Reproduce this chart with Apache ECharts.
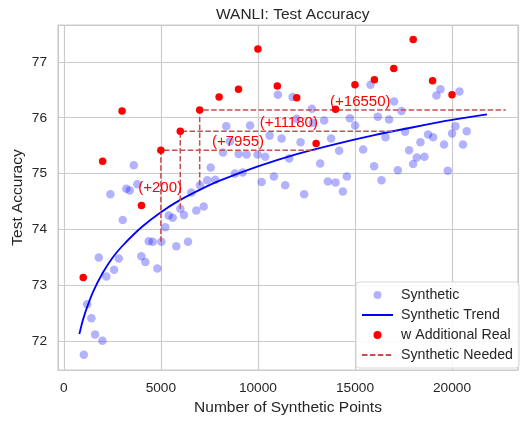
<!DOCTYPE html>
<html>
<head>
<meta charset="utf-8">
<script src="https://cdn.jsdelivr.net/npm/echarts@6/dist/echarts.min.js"></script>
<style>
  html, body { margin: 0; padding: 0; background: #fff; }
  #chart { width: 525px; height: 421px; }
</style>
</head>
<body>
<div id="chart"></div>
<script>
// synthetic runs (x = number of synthetic points, y = test accuracy)
var synX = [1030, 1199, 1421, 1611, 1801, 1987, 2193, 2400, 2589, 2831, 3037, 3222, 3397, 3603, 3790, 3994, 4200, 4375, 4581, 4818,
  5024, 5229, 5404, 5610, 5796, 6003, 6192, 6398, 6568, 6825, 7015, 7206, 7392, 7566, 7803, 8200, 8369, 8560, 8817, 9007,
  9213, 9419, 9597, 9985, 10191, 10377, 10603, 10824, 11030, 11220, 11406, 11612, 11787, 11993, 12198, 12384, 12780, 12831, 13207, 13413,
  13603, 13773, 14000, 14185, 14376, 14582, 14736, 15009, 15420, 15801, 15987, 16177, 16368, 16573, 16759, 17016, 17207, 17397, 17582, 17788,
  17994, 18184, 18374, 18580, 18766, 19024, 19198, 19404, 19590, 19780, 20002, 20176, 20382, 20567, 20758]
var synY = [71.76, 72.66, 72.41, 72.12, 73.50, 72.01, 73.16, 74.63, 73.28, 73.48, 74.17, 74.73, 74.70, 75.15, 74.81, 73.52, 73.42, 73.79, 73.78, 73.30,
  73.78, 74.04, 74.25, 74.21, 73.70, 74.37, 74.26, 73.78, 74.66, 74.34, 74.79, 74.41, 74.88, 75.11, 74.89, 75.38, 75.85, 75.58, 75.00, 75.35,
  75.02, 75.34, 75.86, 75.34, 74.85, 75.30, 75.68, 74.95, 76.41, 75.63, 74.79, 75.27, 76.37, 75.98, 75.56, 74.63, 76.16, 75.91, 75.18, 75.95,
  74.86, 75.63, 74.84, 75.41, 74.68, 74.95, 75.99, 75.86, 75.43, 76.59, 75.13, 76.02, 74.88, 75.65, 75.97, 76.29, 75.06, 76.12, 75.75, 75.42,
  75.17, 75.29, 75.56, 75.30, 75.70, 75.65, 76.40, 76.51, 75.52, 75.05, 75.72, 75.85, 76.47, 75.52, 75.76]

// fitted trend
var trendX = [800, 900, 1000, 1200, 1500, 2000, 2500, 3000, 4000, 5000, 6000, 7000, 8000, 10000, 12000, 14000, 16000, 18000, 20000, 21800]
var trendY = [72.13, 72.27, 72.40, 72.61, 72.88, 73.22, 73.49, 73.70, 74.04, 74.31, 74.53, 74.71, 74.87, 75.13, 75.35, 75.53, 75.69, 75.83, 75.96, 76.06]

// runs with additional real data
var realX = [1000, 2000, 3000, 4000, 5000, 6000, 7000, 8000, 9000, 10000, 11000, 12000, 13000, 14000, 15000, 16000, 17000, 18000, 19000, 20000]
var realY = [73.14, 75.22, 76.12, 74.43, 75.42, 75.76, 76.14, 76.37, 76.51, 77.23, 76.57, 76.36, 75.54, 76.15, 76.59, 76.68, 76.88, 77.40, 76.66, 76.41]

// "synthetic needed" guides
var needX = [5000, 6000, 7000]
var needFromY = [73.78, 74.37, 74.79]
var needToY = [75.42, 75.76, 76.14]
var needEndX = [12955, 17180, 22770]

// annotation texts
var noteText = ['(+200)', '(+7955)', '(+11180)', '(+16550)']
var noteX = [4960, 8977, 11590, 15275]
var noteY = [74.74, 75.57, 75.90, 76.29]

var FONT = 'Liberation Sans, Arial, sans-serif'
var INK = '#262626'

function zip(xs, ys) {
  var out = []
  for (var i = 0; i < xs.length; i++) out.push([xs[i], ys[i]])
  return out
}

var series = [
  {
    name: 'Synthetic',
    type: 'scatter',
    data: zip(synX, synY),
    symbol: 'circle',
    symbolSize: 8.5,
    itemStyle: { color: 'rgba(0,0,255,0.3)', opacity: 1 },
    z: 2
  },
  {
    name: 'Synthetic Trend',
    type: 'line',
    data: zip(trendX, trendY),
    symbol: 'none',
    smooth: 0.3,
    lineStyle: { color: '#0000ff', width: 1.8 },
    itemStyle: { color: '#0000ff' },
    z: 3
  },
  {
    name: 'w Additional Real',
    type: 'scatter',
    data: zip(realX, realY),
    symbol: 'circle',
    symbolSize: 7.5,
    itemStyle: { color: '#ff0000', opacity: 1 },
    z: 5
  }
]

for (var i = 0; i < needX.length; i++) {
  series.push({
    name: 'Synthetic Needed',
    type: 'line',
    data: [[needX[i], needFromY[i]], [needX[i], needToY[i]], [needEndX[i], needToY[i]]],
    symbol: 'none',
    lineStyle: { color: '#c44e52', width: 1.5, type: [5.5, 2.4] },
    itemStyle: { color: '#c44e52' },
    z: 4
  })
}

var notes = []
for (var j = 0; j < noteText.length; j++) notes.push([noteX[j], noteY[j], noteText[j]])
series.push({
  name: 'notes',
  type: 'scatter',
  data: notes,
  symbolSize: 0,
  itemStyle: { color: 'rgba(0,0,0,0)', opacity: 1 },
  silent: true,
  label: {
    show: true,
    position: 'inside',
    formatter: function(p) { return p.data[2] },
    color: '#ff0000',
    fontSize: 15,
    fontFamily: FONT
  },
  z: 6
})

var chart = echarts.init(document.getElementById('chart'), null, { renderer: 'canvas' })
chart.setOption({
  backgroundColor: '#ffffff',
  animation: false,
  title: {
    text: 'WANLI: Test Accuracy',
    left: 211,
    top: 2,
    textStyle: { color: INK, fontSize: 15.5, fontWeight: 'normal', fontFamily: FONT }
  },
  grid: {
    left: 58,
    right: 7,
    top: 25,
    bottom: 48,
    show: true,
    borderColor: '#cccccc',
    borderWidth: 1.2,
    containLabel: false
  },
  legend: {
    data: [
      { name: 'Synthetic' },
      { name: 'Synthetic Trend', itemStyle: { opacity: 0 } },
      { name: 'w Additional Real' },
      { name: 'Synthetic Needed', itemStyle: { opacity: 0 } }
    ],
    orient: 'vertical',
    right: 6,
    bottom: 53,
    itemWidth: 31,
    itemHeight: 8,
    itemGap: 6,
    padding: [6, 6, 6, 5],
    backgroundColor: 'rgba(255,255,255,0.85)',
    borderColor: '#d8d8d8',
    borderWidth: 1,
    borderRadius: 3,
    textStyle: { color: INK, fontSize: 14.2, fontFamily: FONT, padding: [0, 0, 0, 3] }
  },
  xAxis: {
    type: 'value',
    min: -300,
    max: 23400,
    minInterval: 5000,
    maxInterval: 5000,
    name: 'Number of Synthetic Points',
    nameLocation: 'middle',
    nameGap: 30,
    nameMoveOverlap: false,
    nameTextStyle: { color: INK, fontSize: 15.5, fontFamily: FONT },
    axisLine: { show: false },
    axisTick: { show: false },
    axisLabel: {
      color: INK,
      fontSize: 13.7,
      fontFamily: FONT,
      margin: 11,
      formatter: function(v) {
        return (v >= 0 && v <= 20000 && v % 5000 === 0) ? String(v) : ''
      }
    },
    splitLine: { show: true, lineStyle: { color: '#cccccc', width: 1.2 } }
  },
  yAxis: {
    type: 'value',
    min: 71.485,
    max: 77.66,
    minInterval: 1,
    maxInterval: 1,
    name: 'Test Accuracy',
    nameLocation: 'middle',
    nameGap: 32,
    nameMoveOverlap: false,
    nameTextStyle: { color: INK, fontSize: 15.5, fontFamily: FONT },
    axisLine: { show: false },
    axisTick: { show: false },
    axisLabel: {
      color: INK,
      fontSize: 13.7,
      fontFamily: FONT,
      margin: 11,
      formatter: function(v) {
        return Math.abs(v - Math.round(v)) < 1e-6 ? String(Math.round(v)) : ''
      }
    },
    splitLine: { show: true, lineStyle: { color: '#cccccc', width: 1.2 } }
  },
  series: series
})
</script>
</body>
</html>
